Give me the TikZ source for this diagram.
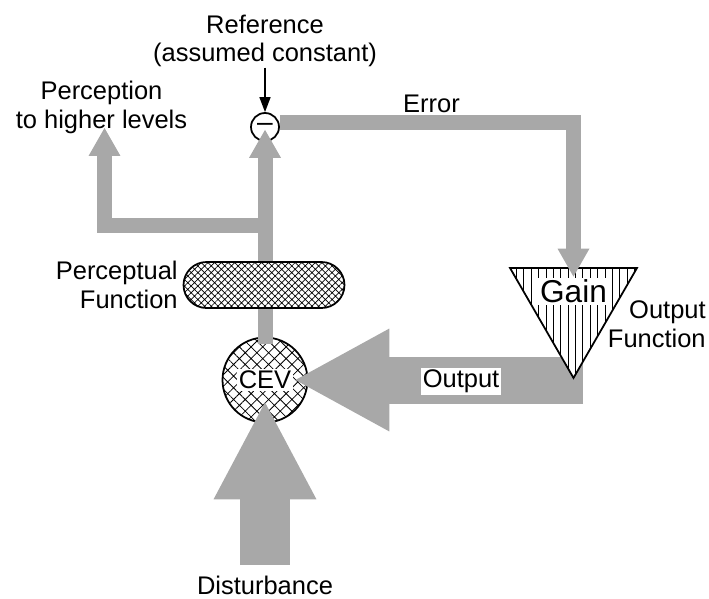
\documentclass[tikz,border=0pt]{standalone}
\usepackage{fontspec}
\setmainfont{Liberation Sans}
\usetikzlibrary{arrows.meta,shapes.geometric,shapes.misc,patterns.meta}

\definecolor{pipegray}{RGB}{168,168,168}

\tikzset{
  lbl/.style={font=\fontsize{14.5}{16.3}\selectfont, align=center, inner sep=0pt},
  outline/.style={draw, line width=1pt},
  pipe/.style={draw=pipegray, line width=0.3cm, line join=miter},
  pipehead/.style={-{Triangle[length=0.56cm,width=0.64cm,line width=0pt]}},
  outpipe/.style={draw=pipegray, line width=0.94cm, -{Triangle[length=1.88cm,width=2.06cm,line width=0pt]}},
  distpipe/.style={draw=pipegray, line width=1.0cm, -{Triangle[length=1.94cm,width=2.06cm,line width=0pt]}},
  refarrow/.style={draw=black, line width=0.8pt, -{Triangle[length=0.3cm,width=0.22cm]}},
  sumnode/.style={outline, circle, minimum size=0.56cm, inner sep=0pt, fill=white, font=\fontsize{16}{18}\selectfont},
  cevnode/.style={outline, circle, minimum size=1.7cm, inner sep=0pt, preaction={fill=white},
    pattern={Hatch[angle=45,distance=4.7pt,line width=0.45pt]}},
  pillnode/.style={outline, rounded rectangle, minimum width=3.22cm, minimum height=0.92cm, inner sep=0pt,
    preaction={fill=white}, pattern={Hatch[angle=45,distance=2.7pt,line width=0.4pt]}},
  gainnode/.style={outline, regular polygon, regular polygon sides=3, shape border rotate=180,
    minimum size=2.93cm, inner sep=0pt, preaction={fill=white},
    pattern={Lines[angle=90,distance=4.2pt,line width=0.55pt]}}
}

\begin{document}
\begin{tikzpicture}[x=0.02cm, y=-0.02cm]
  % Page frame
  \useasboundingbox (0,0) rectangle (709,598);

  % Comparator and controlled variable
  \node[sumnode] (comp) at (265,127) {\textendash};
  \node[cevnode, label={[lbl, fill=white, inner sep=1pt]center:CEV}] (cev) at (265,380) {};

  % Perception pipe, with branch to higher levels
  \coordinate (junc) at (265,225.5);
  \coordinate (perctip) at (104.5,128);
  \draw[pipe, pipehead] ([yshift=-0.14cm]cev.north) -- ([yshift=0.24cm]comp.south);
  \draw[pipe, pipehead] (junc) -| (perctip);

  % Perceptual function
  \node[pillnode] (pf) at (264,285) {};

  % Output and disturbance
  \coordinate (outend) at (583,380);
  \coordinate (distbase) at (265,565);
  \draw[outpipe] (outend) -- ([xshift=-0.25cm]cev.east);
  \draw[distpipe] (distbase) -- ([yshift=0.41cm]cev.south);

  % Output function
  \node[gainnode, label={[lbl, font=\fontsize{18}{20}\selectfont, fill=white, inner sep=1pt, yshift=0.27cm]center:Gain}] (gain) at (573.5,304.7) {};

  % Error
  \draw[pipe, pipehead] ([yshift=0.09cm]comp.east) -| ([yshift=-0.18cm]gain.north);

  % Reference
  \node[lbl] (ref) at (265,41) {Reference\\(assumed constant)};
  \draw[refarrow] (ref) -- (comp.north);

  % Labels
  \node[lbl] (err) at (431.5,104) {Error};
  \node[lbl] (perc) at (101.5,107.5) {Perception\\to higher levels};
  \node[lbl, anchor=east, align=right] (pflbl) at (178,285) {Perceptual\\Function};
  \node[lbl, anchor=east, align=right] (oflbl) at (706,324) {Output\\Function};
  \node[lbl, fill=white, inner sep=1pt] (outlbl) at (461,381.5) {Output};
  \node[lbl] (distlbl) at (265,585.7) {Disturbance};
\end{tikzpicture}
\end{document}
